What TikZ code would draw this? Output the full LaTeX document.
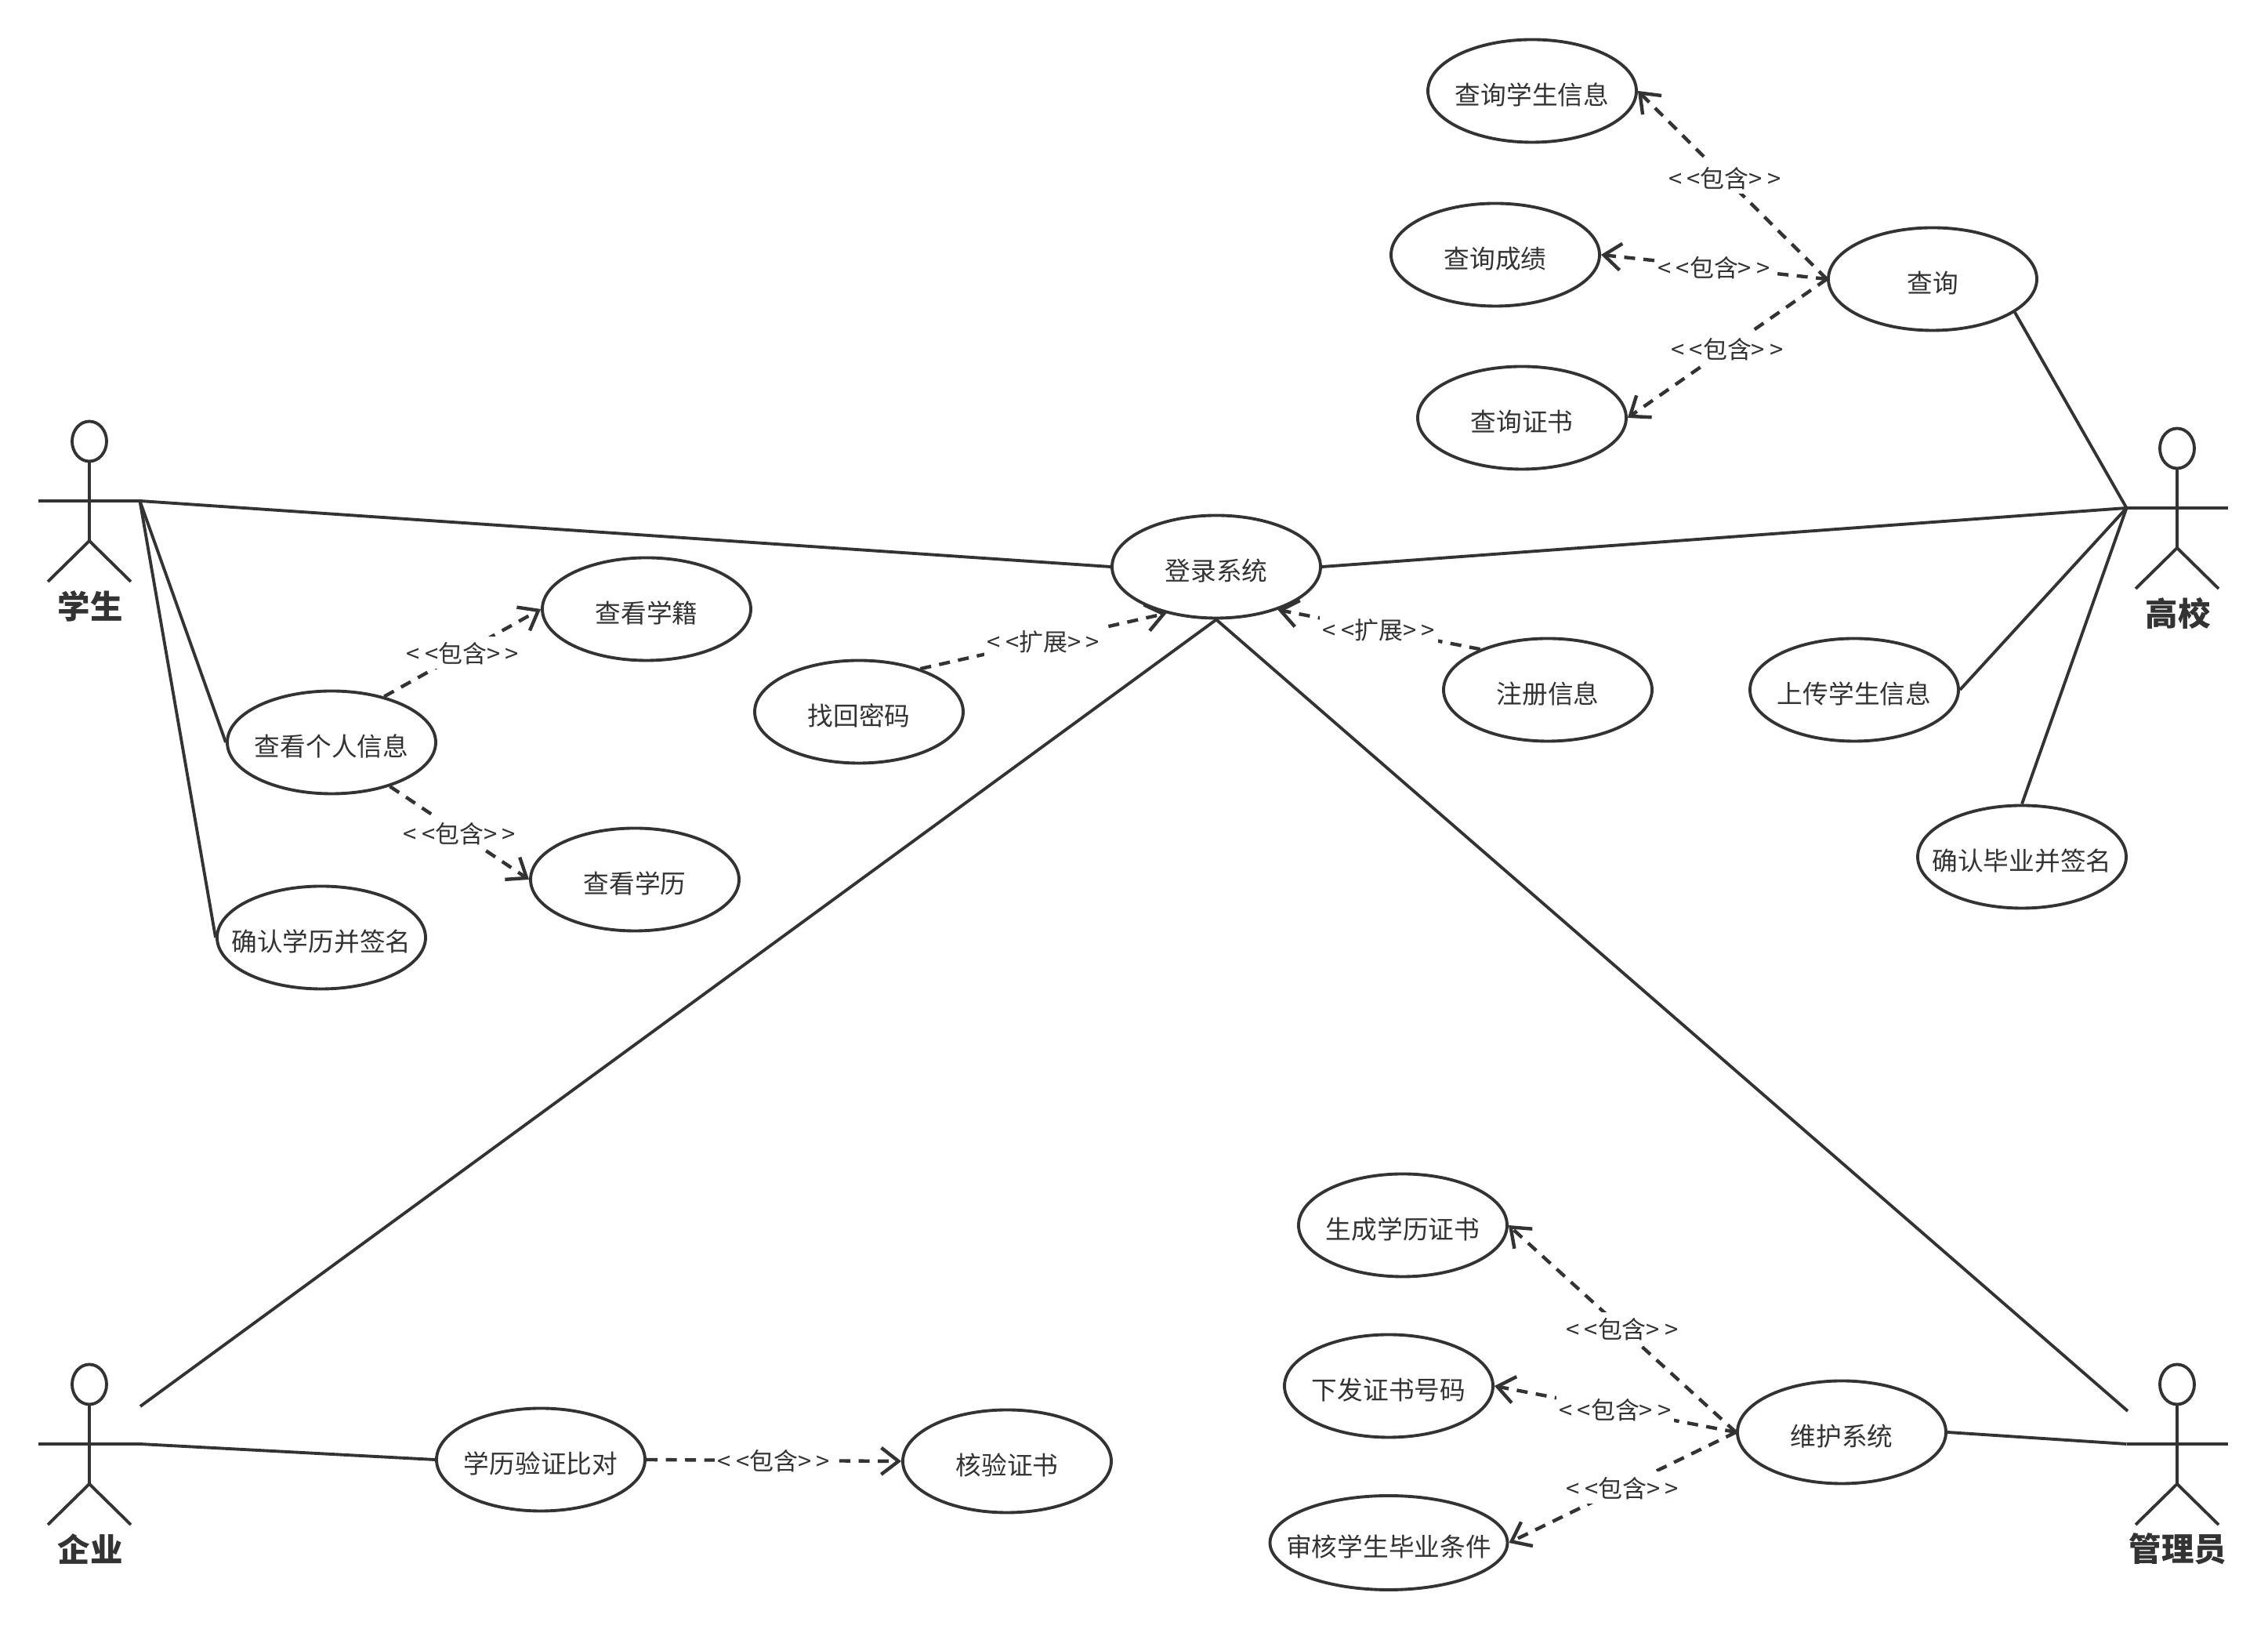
\documentclass[tikz,border=0pt]{standalone}
\usepackage{fontspec}
\usepackage{xcolor}
\usetikzlibrary{shapes.geometric,arrows.meta}
\newfontfamily\cjk{Noto Sans CJK SC}
\definecolor{LineDark}{HTML}{333333}
\newcommand{\stereo}[1]{<\kern1.8pt<#1>\kern1.8pt>}

\begin{document}
\begin{tikzpicture}[
	% Style for the use case ellipses
	usecase/.style={
		ellipse,
		draw=LineDark,
		line width=1.1pt,
		fill=white,
		text=LineDark,
		inner xsep=-1cm, % long labels must not widen the ellipse
		inner ysep=0pt,
		text height=10pt,
		text depth=0pt,
		minimum width=2.66cm,
		minimum height=1.31cm,
		font=\cjk\fontsize{9.3pt}{11pt}\selectfont
	},
	% Wider one for the long label
	usecase wide/.style={
		usecase,
		minimum width=3.03cm,
		minimum height=1.2cm
	},
	% Style for the plain associations
	edge/.style={
		draw=LineDark,
		line width=1.1pt
	},
	% Style for the dashed dependencies
	dep/.style={
		edge,
		line width=1.25pt,
		dash pattern=on 4pt off 3pt,
		-{Straight Barb[length=2.2mm,width=3.4mm,line width=1.25pt]}
	},
	% Style for the text on the dependencies
	tag/.style={
		fill=white,
		text=LineDark,
		inner sep=1pt,
		text height=8.5pt,
		text depth=1.3pt,
		font=\cjk\fontsize{8.8pt}{10pt}\selectfont
	},
	% Stick figure, its arms are the connector ends
	pics/actor/.style={
		code={
			\node[ellipse, draw=LineDark, line width=1.1pt, inner sep=0pt, minimum width=0.44cm, minimum height=0.51cm] (-head) at (0, 0.76) {};
			\coordinate (-left) at (-0.645, 0);
			\coordinate (-right) at (0.645, 0);
			\coordinate (-waist) at (0, -0.51);
			\coordinate (-footl) at (-0.53, -1.03);
			\coordinate (-footr) at (0.53, -1.03);
			\draw[edge] (-head) -- (-waist);
			\draw[edge] (-left) -- (-right);
			\draw[edge] (-footl) -- (-waist) -- (-footr);
			\node[text=LineDark, font=\cjk\bfseries\fontsize{11.8pt}{14pt}\selectfont] (-name) at (0.01, -1.34) {#1};
		}
	}
	]
	\useasboundingbox (0, 0) rectangle (28.94, 20.78);

	% ================= ACTORS =================
	\pic (student) at ( 1.14, 14.39) {actor=学生};
	\pic (school)  at (27.78, 14.30) {actor=高校};
	\pic (company) at ( 1.14,  2.36) {actor=企业};
	\pic (admin)   at (27.78,  2.36) {actor=管理员};
	\coordinate (companyTop) at ( 1.79, 2.84);
	\coordinate (adminTop)   at (27.15, 2.78);

	% ================= USE CASES =================
	\node[usecase] (login)    at (15.52, 13.55) {登录系统};
	\node[usecase] (forgot)   at (10.96, 11.70) {找回密码};
	\node[usecase] (register) at (19.75, 11.98) {注册信息};

	\node[usecase] (info)     at ( 4.23, 11.31) {查看个人信息};
	\node[usecase] (status)   at ( 8.25, 13.01) {查看学籍};
	\node[usecase] (degree)   at ( 8.10,  9.56) {查看学历};
	\node[usecase] (sign)     at ( 4.10,  8.82) {确认学历并签名};

	\node[usecase] (query)    at (24.66, 17.22) {查询};
	\node[usecase] (qStudent) at (19.55, 19.62) {查询学生信息};
	\node[usecase] (qScore)   at (19.08, 17.53) {查询成绩};
	\node[usecase] (qCert)    at (19.42, 15.45) {查询证书};
	\node[usecase] (upload)   at (23.66, 11.98) {上传学生信息};
	\node[usecase] (confirm)  at (25.80,  9.85) {确认毕业并签名};

	\node[usecase] (compare)  at ( 6.90,  2.16) {学历验证比对};
	\node[usecase] (verify)   at (12.85,  2.14) {核验证书};

	\node[usecase] (maintain) at (23.50,  2.51) {维护系统};
	\node[usecase] (generate) at (17.90,  5.15) {生成学历证书};
	\node[usecase] (issue)    at (17.72,  3.10) {下发证书号码};
	\node[usecase wide] (audit) at (17.72, 1.10) {审核学生毕业条件};

	% ================= ASSOCIATIONS =================
	\draw[edge] (student-right) -- (login.west);
	\draw[edge] (student-right) -- (info.west);
	\draw[edge] (student-right) -- (sign.west);
	\draw[edge] (login.east) -- (school-left);
	\draw[edge] (query.-22) -- (school-left);
	\draw[edge] (upload.east) -- (school-left);
	\draw[edge] (confirm.north) -- (school-left);
	\draw[edge] (login.south) -- (companyTop);
	\draw[edge] (login.south) -- (adminTop);
	\draw[edge] (company-right) -- (compare.west);
	\draw[edge] (maintain.east) -- (admin-left);

	% ================= DEPENDENCIES =================
	\draw[dep] (info.41) -- node[tag] {\stereo{包含}} (status.west);
	\draw[dep] (info.-37) -- node[tag] {\stereo{包含}} (degree.west);
	\draw[dep] (forgot.35) -- node[tag] {\stereo{扩展}} (login.223);
	\draw[dep] (register.149) -- node[tag] {\stereo{扩展}} (login.-35);
	\draw[dep] (query.west) -- node[tag, pos=0.54] {\stereo{包含}} (qStudent.east);
	\draw[dep] (query.west) -- node[tag] {\stereo{包含}} (qScore.east);
	\draw[dep] (query.west) -- node[tag] {\stereo{包含}} (qCert.east);
	\draw[dep] (compare.east) -- node[tag] {\stereo{包含}} (verify.west);
	\draw[dep] (maintain.west) -- node[tag] {\stereo{包含}} (generate.east);
	\draw[dep] (maintain.west) -- node[tag] {\stereo{包含}} (issue.east);
	\draw[dep] (maintain.west) -- node[tag] {\stereo{包含}} (audit.east);

\end{tikzpicture}
\end{document}
